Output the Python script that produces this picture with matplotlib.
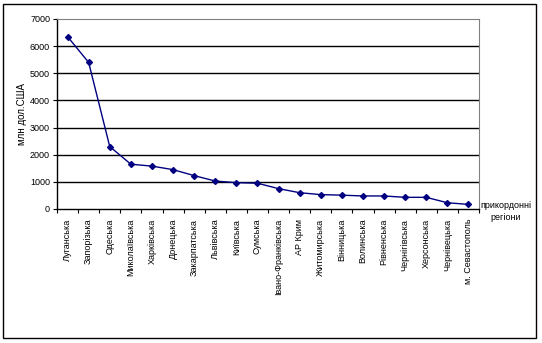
import matplotlib
matplotlib.use("Agg")
from matplotlib import pyplot as plt
from matplotlib.patches import Rectangle

plt.rcParams['font.family'] = ['Liberation Sans', 'DejaVu Sans']

# Data
regions = ['Луганська', 'Запорізька', 'Одеська', 'Миколаївська', 'Харківська',
           'Донецька', 'Закарпатська', 'Львівська', 'Київська', 'Сумська',
           'Івано-Франківська', 'АР Крим', 'Житомирська', 'Вінницька', 'Волинська',
           'Рівненська', 'Чернігівська', 'Херсонська', 'Чернівецька', 'м. Севастополь']
values = [6350, 5400, 2300, 1650, 1580, 1450, 1230, 1030, 970, 950,
          750, 600, 530, 510, 480, 480, 430, 430, 230, 170]
yticks = [0, 1000, 2000, 3000, 4000, 5000, 6000, 7000]

fig = plt.figure(figsize=(5.42, 3.43), dpi=100)
W, H = 542, 343
ax = fig.add_axes([57 / W, 1 - 209 / H, (479 - 57) / W, (209 - 19) / H])

x = list(range(len(regions)))
ax.plot(x, values, color='#000080', linewidth=1, marker='D', markersize=3,
        markerfacecolor='#000080', markeredgecolor='#000080')

ax.set_xlim(-0.5, len(regions) - 0.5)
ax.set_ylim(0, 7000)
ax.set_yticks(yticks)
ax.set_yticklabels([str(v) for v in yticks], fontsize=6.5)
for v in yticks[1:-1]:
    ax.axhline(v, color='black', linewidth=1, zorder=0)

# ticks between categories
ax.set_xticks([i + 0.5 for i in range(-1, len(regions))], minor=False)
ax.set_xticklabels([])
ax.set_xticks(x, minor=True)
ax.set_xticklabels(regions, minor=True, rotation=90, fontsize=6.5, va='top')
ax.tick_params(axis='x', which='major', direction='out', length=3, width=0.8)
ax.tick_params(axis='x', which='minor', length=0, pad=7)
ax.tick_params(axis='y', direction='out', length=3, width=0.8, pad=2)

ax.spines['top'].set_color('#808080')
ax.spines['right'].set_color('#808080')
ax.spines['left'].set_linewidth(1)
ax.spines['bottom'].set_linewidth(1)

ax.set_ylabel('млн дол.США', fontsize=7, labelpad=2)
fig.text(506 / W, 1 - 205 / H, 'прикордонні', fontsize=6.5, ha='center', va='center')
fig.text(506 / W, 1 - 218 / H, 'регіони', fontsize=6.5, ha='center', va='center')

# outer frame
fig.patches.append(Rectangle((3 / W, 5 / H), (536 - 3) / W, (339 - 5) / H,
                             transform=fig.transFigure, fill=False,
                             edgecolor='black', linewidth=1))

fig.savefig('out.png', dpi=100)
